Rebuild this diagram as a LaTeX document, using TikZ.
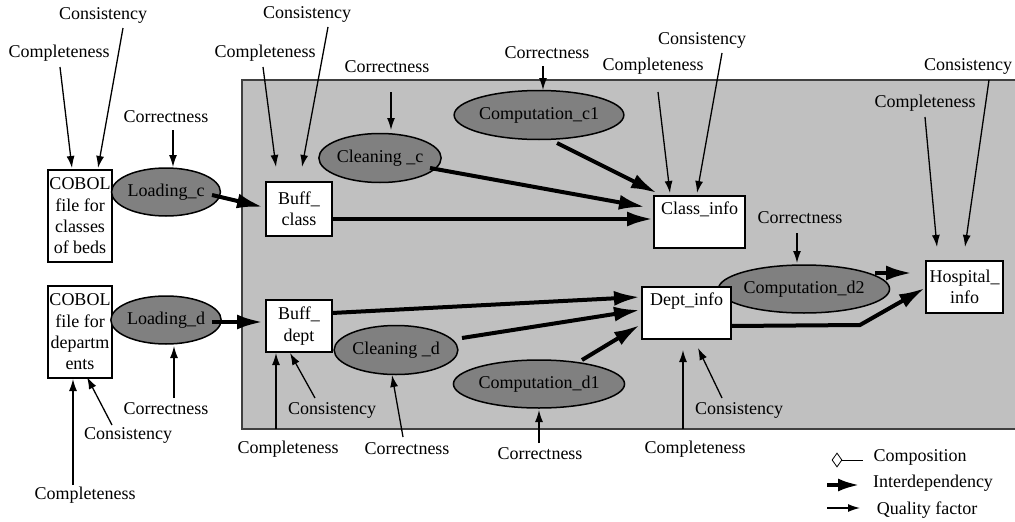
\documentclass[tikz,border=0pt]{standalone}
\usepackage{fontspec}
\setmainfont{Liberation Serif}
\usetikzlibrary{arrows.meta,shapes.geometric,calc}
\definecolor{bggray}{RGB}{192,192,192}
\definecolor{procgray}{RGB}{128,128,128}
\definecolor{framegray}{RGB}{64,64,64}
\begin{document}
\begin{tikzpicture}[x=1pt,y=-1pt,
  every node/.style={font=\fontsize{18}{21.3}\selectfont},
  box/.style={draw,line width=2pt,fill=white,inner sep=0pt,align=center},
  proc/.style={draw,ellipse,line width=1.5pt,fill=procgray,inner sep=0pt,text=black},
  lbl/.style={inner sep=0pt},
  qf/.style={-{Latex[length=12pt,width=8pt]},line width=1.3pt},
  dep/.style={-{Latex[length=26pt,width=15pt]},line width=4pt}]
\useasboundingbox (0,0) rectangle (1015,522);

% shaded area holding the warehouse processes
\fill[bggray] (242,80) rectangle (1015,429);
\draw[line width=1.5pt,framegray] (1016,80) -- (242,80) -- (242,429) -- (1016,429);

% source files
\node[box,minimum width=64pt,minimum height=92pt] (cobc) at (80,216) {COBOL\\file for\\classes\\of beds};
\node[box,minimum width=64pt,minimum height=92pt] (cobd) at (80,332) {COBOL\\file for\\departm\\ents};

% processes
\node[proc,minimum width=83pt,minimum height=48pt] (loadc) at (166,192) {Loading\_c};
\node[proc,minimum width=83pt,minimum height=48pt] (loadd) at (166,320) {Loading\_d};
\node[proc,minimum width=97pt,minimum height=49pt] (cleanc) at (380,158) {Cleaning \_c};
\node[proc,minimum width=104pt,minimum height=49pt] (cleand) at (396,350) {Cleaning \_d};
\node[proc,minimum width=144pt,minimum height=49pt] (compc1) at (539,115) {Computation\_c1};
\node[proc,minimum width=144pt,minimum height=48pt] (compd1) at (539,384) {Computation\_d1};
\node[proc,minimum width=146pt,minimum height=48pt] (compd2) at (804,289) {Computation\_d2};

% tables
\node[box,minimum width=66pt,minimum height=54pt] (buffc) at (299,209) {Buff\_\\class};
\node[box,minimum width=66pt,minimum height=52pt] (buffd) at (299,326) {Buff\_\\dept};
\node[box,minimum width=91pt,minimum height=52pt] (classinfo) at (699.5,222) {Class\_info\\\strut};
\node[box,minimum width=89pt,minimum height=52pt] (deptinfo) at (686.5,313) {Dept\_info\\\strut};
\node[box,minimum width=77pt,minimum height=52pt] (hosp) at (964.5,287) {Hospital\_\\info};

% quality factors
\node[lbl] (q1) at (103,15) {Consistency};
\node[lbl] (q2) at (59,53) {Completeness};
\node[lbl] (q3) at (166,117) {Correctness};
\node[lbl] (q4) at (307,14) {Consistency};
\node[lbl] (q5) at (265,53) {Completeness};
\node[lbl] (q6) at (387,67) {Correctness};
\node[lbl] (q7) at (547,53) {Correctness};
\node[lbl] (q8) at (653,66) {Completeness};
\node[lbl] (q9) at (702,40) {Consistency};
\node[lbl] (q10) at (968,66) {Consistency};
\node[lbl] (q11) at (925,103) {Completeness};
\node[lbl] (q12) at (800,218) {Correctness};
\node[lbl] (q13) at (85,495) {Completeness};
\node[lbl] (q14) at (128,435) {Consistency};
\node[lbl] (q15) at (166,409) {Correctness};
\node[lbl] (q16) at (288,449) {Completeness};
\node[lbl] (q17) at (332,410) {Consistency};
\node[lbl] (q18) at (407,449) {Correctness};
\node[lbl] (q19) at (540,454) {Correctness};
\node[lbl] (q20) at (695,449) {Completeness};
\node[lbl] (q21) at (739,410) {Consistency};

\draw[qf] ($(q1)+(20,13)$) -- ($(cobc)+(18,-48)$);
\draw[qf] ($(q2)+(1,14)$) -- ($(cobc)+(-8,-48)$);
\draw[qf] ($(q3)+(7,13)$) -- ($(loadc)+(7,-25)$);
\draw[qf] ($(q4)+(21,13)$) -- ($(buffc)+(3,-42)$);
\draw[qf] ($(q5)+(-2,14)$) -- ($(buffc)+(-23,-42)$);
\draw[qf] ($(q6)+(4,25)$) -- ($(cleanc)+(11,-28)$);
\draw[qf] ($(q7)+(-4,13)$) -- ($(compc1)+(4,-25)$);
\draw[qf] ($(q8)+(5,26)$) -- ($(classinfo)+(-29.5,-29)$);
\draw[qf] ($(q9)+(20,13)$) -- ($(classinfo)+(-2.5,-29)$);
\draw[qf] ($(q10)+(21,14)$) -- ($(hosp)+(0.5,-40)$);
\draw[qf] ($(q11)+(0,14)$) -- ($(hosp)+(-27.5,-40)$);
\draw[qf] ($(q12)+(-3,15)$) -- ($(compd2)+(-7,-26)$);
\draw[qf] ($(q13)+(-12,-10)$) -- ($(cobd)+(-7,47)$);
\draw[qf] ($(q14)+(-16,-10)$) -- ($(cobd)+(7,45)$);
\draw[qf] ($(q15)+(8,-11)$) -- ($(loadd)+(8,26)$);
\draw[qf] ($(q16)+(-12,-20)$) -- ($(buffd)+(-23,27)$);
\draw[qf] ($(q17)+(-17,-12)$) -- ($(buffd)+(-9,27)$);
\draw[qf] ($(q18)+(-4,-12)$) -- ($(cleand)+(-4,25)$);
\draw[qf] ($(q19)+(-1,-11)$) -- ($(compd1)+(0,26)$);
\draw[qf] ($(q20)+(-12,-20)$) -- ($(deptinfo)+(-3.5,37)$);
\draw[qf] ($(q21)+(-17,-12)$) -- ($(deptinfo)+(11.5,35)$);

% interdependencies
\draw[dep] ($(loadc)+(46,3)$) -- ($(buffc)+(-36,-2)$);
\draw[dep] ($(loadd)+(46,2)$) -- ($(buffd)+(-36,-4)$);
\draw[dep] ($(buffc)+(33,10)$) -- ($(classinfo)+(-46.5,-3)$);
\draw[dep] ($(cleanc)+(50,10)$) -- ($(classinfo)+(-54.5,-15)$);
\draw[dep] ($(compc1)+(18,28)$) -- ($(classinfo)+(-42.5,-29)$);
\draw[dep] ($(buffd)+(33,-13)$) -- ($(deptinfo)+(-46.5,-16)$);
\draw[dep] ($(cleand)+(66,-12)$) -- ($(deptinfo)+(-46.5,-3)$);
\draw[dep] ($(compd1)+(43,-24)$) -- ($(deptinfo)+(-46.5,12)$);
\draw[dep] ($(deptinfo)+(44.5,13)$) -- ($(hosp)+(-104.5,38)$) -- ($(hosp)+(-39.5,1)$);
\draw[dep] ($(compd2)+(71,-16)$) -- ($(hosp)+(-52.5,-14)$);

% legend
\node[draw,diamond,line width=0.8pt,minimum width=10pt,minimum height=14pt,inner sep=0pt] (dia) at (837,460) {};
\coordinate (compend) at (863,460);
\draw[line width=1pt] (dia.east) -- (compend);
\node[lbl] (lgc) at (920,457) {Composition};
\coordinate (lgia) at (827,485);
\coordinate (lgib) at (860,485);
\draw[-{Latex[length=22pt,width=13pt]},line width=4pt] (lgia) -- (lgib);
\node[lbl] (lgi) at (933,483) {Interdependency};
\coordinate (lgqa) at (827,508);
\coordinate (lgqb) at (860,508);
\draw[qf] (lgqa) -- (lgqb);
\node[lbl] (lgq) at (927,510) {Quality factor};
\end{tikzpicture}
\end{document}
